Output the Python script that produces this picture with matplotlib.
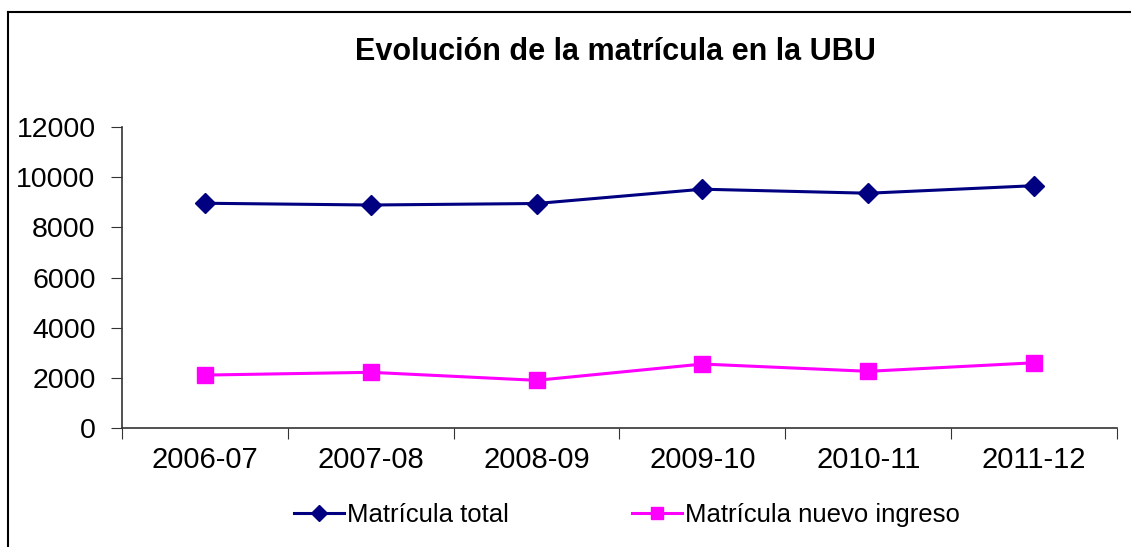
import matplotlib
matplotlib.use("Agg")
import matplotlib.pyplot as plt
from matplotlib.lines import Line2D

plt.rcParams['font.family'] = ['Liberation Sans', 'DejaVu Sans']

categories = ["2006-07", "2007-08", "2008-09", "2009-10", "2010-11", "2011-12"]
matricula_total = [8960, 8890, 8950, 9520, 9360, 9660]
matricula_nuevo = [2110, 2220, 1900, 2550, 2260, 2600]
y_ticks = [0, 2000, 4000, 6000, 8000, 10000, 12000]
title = "Evolución de la matrícula en la UBU"
labels = ["Matrícula total", "Matrícula nuevo ingreso"]

W, H = 1131, 547
fig = plt.figure(figsize=(W / 100, H / 100), dpi=100)
ax = fig.add_axes([122 / W, (H - 428) / H, (1117 - 122) / W, (428 - 127) / H])

x = list(range(len(categories)))
ax.plot(x, matricula_total, color="#000080", lw=2.2, marker="D", ms=10,
        label=labels[0])
ax.plot(x, matricula_nuevo, color="#FF00FF", lw=2.2, marker="s", ms=11,
        label=labels[1])

ax.set_xlim(-0.5, len(categories) - 0.5)
ax.set_ylim(0, 12000)
ax.set_yticks(y_ticks)
ax.set_yticklabels([str(v) for v in y_ticks], fontsize=20.5)

ax.set_xticks([i - 0.5 for i in range(len(categories) + 1)])
ax.set_xticklabels([])
ax.set_xticks(x, minor=True)
ax.set_xticklabels(categories, minor=True, fontsize=21)
ax.tick_params(axis='x', which='minor', length=0, pad=13)
ax.tick_params(axis='x', which='major', length=8, direction='out', color='#333333')
ax.tick_params(axis='y', length=8, direction='out', color='#333333', pad=11)

for s in ['top', 'right']:
    ax.spines[s].set_visible(False)
for s in ['left', 'bottom']:
    ax.spines[s].set_color('#333333')
    ax.spines[s].set_linewidth(1.2)

fig.text(615 / W, 1 - 52 / H, title, ha='center', va='center',
         fontsize=22, fontweight='bold')

fig.legend(loc='center', bbox_to_anchor=(627 / W, 1 - 515 / H), ncol=2,
           frameon=False, fontsize=18.5, handlelength=1.95, columnspacing=4.8,
           handletextpad=0.12, markerscale=0.8)

fig.add_artist(Line2D([8 / W, 8 / W], [0, 1 - 12 / H], transform=fig.transFigure,
                      color='black', lw=1.5))
fig.add_artist(Line2D([8 / W, 1], [1 - 12 / H, 1 - 12 / H], transform=fig.transFigure,
                      color='black', lw=1.5))

fig.savefig("out.png", dpi=100, facecolor='white')
